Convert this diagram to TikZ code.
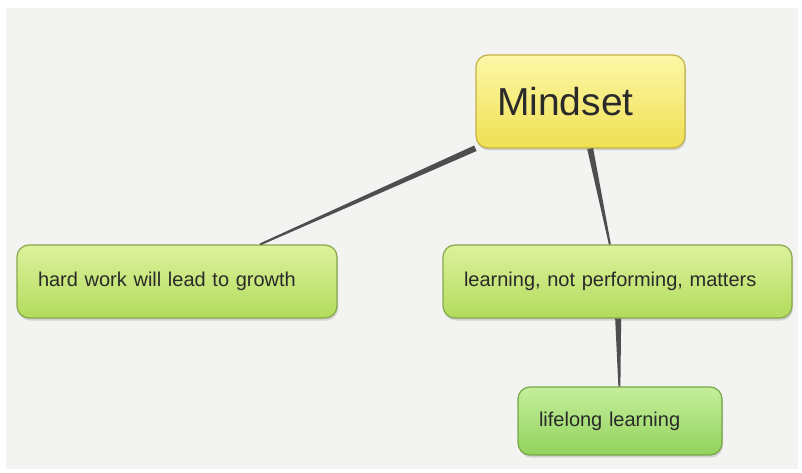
\documentclass[tikz,border=0pt]{standalone}
\usepackage{fontspec}
\setmainfont{Liberation Sans}
\usetikzlibrary{shadows,calc}
\definecolor{bgc}{HTML}{F3F3F1}
\definecolor{ylTop}{HTML}{FCF7A8}
\definecolor{ylBot}{HTML}{F0E052}
\definecolor{ylBd}{HTML}{C2B243}
\definecolor{grTop}{HTML}{DDF29C}
\definecolor{grBot}{HTML}{B2DB5C}
\definecolor{grBd}{HTML}{86A84C}
\definecolor{lgTop}{HTML}{C4EE9C}
\definecolor{lgBot}{HTML}{92D35C}
\definecolor{lgBd}{HTML}{74A848}
\definecolor{linec}{HTML}{4E4E4E}
\definecolor{txt}{HTML}{2A2A2A}
\tikzset{
  boxbase/.style={rectangle, rounded corners=12pt, line width=1.2pt, align=left,
    inner xsep=21pt, inner ysep=0pt, text=txt,
    drop shadow={shadow xshift=1pt, shadow yshift=-2.5pt, opacity=0.28}},
  mainbox/.style={boxbase, draw=ylBd, top color=ylTop, bottom color=ylBot,
    font=\fontsize{39}{44}\selectfont},
  greenbox/.style={boxbase, draw=grBd, top color=grTop, bottom color=grBot,
    font=\fontsize{20}{24}\selectfont},
  leafbox/.style={boxbase, draw=lgBd, top color=lgTop, bottom color=lgBot,
    font=\fontsize{20}{24}\selectfont},
}
\newcommand{\taper}[2]{%
  \path (#1) -- (#2) coordinate[pos=0] (ts) coordinate[pos=1] (te);
  \fill[linec] ($(ts)!3pt!90:(te)$) -- ($(ts)!3pt!-90:(te)$)
     -- ($(te)!1pt!90:(ts)$) -- ($(te)!1pt!-90:(ts)$) -- cycle;
}
\begin{document}
\begin{tikzpicture}[x=1pt,y=-1pt]
\useasboundingbox (0,0) rectangle (802,473);
\fill[white] (0,0) rectangle (802,473);
\fill[bgc] (6,8) rectangle (798,469);
\node[mainbox, text width=167pt, minimum height=93pt] (m) at (580.5,101.5) {Mindset};
\node[greenbox, text width=278pt, minimum height=73pt] (h) at (177,281.5) {hard work will lead to growth};
\node[greenbox, text width=307pt, minimum height=73pt] (l) at (617.5,281.5) {learning, not performing, matters};
\node[leafbox, text width=162pt, minimum height=68pt] (f) at (620,421) {lifelong learning};
\taper{m}{h}
\taper{m}{l}
\taper{l}{f}
\end{tikzpicture}
\end{document}
